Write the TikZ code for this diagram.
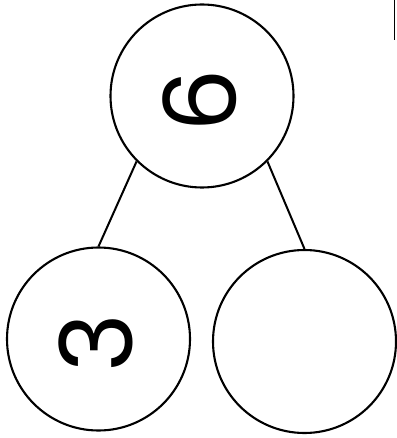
\documentclass[tikz,border=0pt]{standalone}
\usepackage{fontspec}
\newfontfamily\bondfont{Poppins}
\begin{document}
\begin{tikzpicture}[x=1pt, y=-1pt,
    bond/.style={draw, circle, line width=2.1pt, minimum size=183pt, inner sep=0pt},
    digit/.style={font=\bondfont\fontsize{100}{100}\selectfont, rotate=90, inner sep=0pt},
    link/.style={line width=2pt}]
  \useasboundingbox (0,0) rectangle (396,438);
  \node[bond] (whole) at (202,96) {};
  \node[bond] (partA) at (98.5,339) {};
  \node[bond] (partB) at (304.5,341.5) {};
  \node[digit] (six) at (200,101) {6};
  \node[digit] (three) at (95.5,343) {3};
  \draw[link] (whole.225) -- (partA.north);
  \draw[link] (whole.-45) -- (partB.north);
  % stray mark at the top right edge
  \coordinate (markTop) at (394.3,0);
  \coordinate (markBot) at (394.3,40);
  \draw[line width=1pt] (markTop) -- (markBot);
\end{tikzpicture}
\end{document}
